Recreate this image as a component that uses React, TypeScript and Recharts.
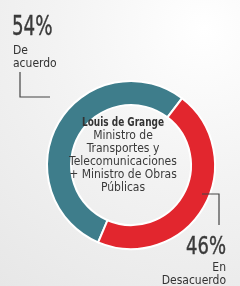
import { PieChart, Pie, Cell } from "recharts";

const slices = ["De acuerdo", "En Desacuerdo"];
const shares = [54, 46];
const sliceColors = ["#3e7d8b", "#e2262e"];
const titleLine = "Louis de Grange";
const roleLines = [
    "Ministro de",
    "Transportes y",
    "Telecomunicaciones",
    "+ Ministro de Obras",
    "Públicas",
];

const data = slices.map((name, i) => ({ name, value: shares[i] }));

const narrow = "'Liberation Sans Narrow', 'DejaVu Sans Condensed', sans-serif";

const App = () => {
    return (
        <div
            style={{
                position: "fixed",
                top: 0,
                left: 0,
                width: 240,
                height: 286,
                background: "radial-gradient(circle at 85% 10%, #ffffff 0%, #f3f3f3 45%, #e7e7e7 100%)",
                overflow: "hidden",
            }}
        >
            <PieChart width={240} height={286} style={{ position: "absolute", top: 0, left: 0 }}>
                <Pie
                    data={data}
                    dataKey="value"
                    nameKey="name"
                    cx={126}
                    cy={160}
                    innerRadius={60}
                    outerRadius={84}
                    startAngle={-113}
                    endAngle={-473}
                    stroke="#ffffff"
                    strokeWidth={2}
                    isAnimationActive={false}
                >
                    {data.map((d, i) => (
                        <Cell key={d.name} fill={sliceColors[i]} />
                    ))}
                </Pie>
            </PieChart>

            <svg width={240} height={286} style={{ position: "absolute", top: 0, left: 0 }}>
                {/* left callout */}
                <text transform="translate(12,35) scale(0.78,1)" fontFamily={narrow} fontSize={26} fill="#3a3a3a" stroke="#3a3a3a" strokeWidth={0.4}>
                    {shares[0]}%
                </text>
                <text x={13} y={54} fontFamily={narrow} fontSize={12} fill="#333">De</text>
                <text x={13} y={67} fontFamily={narrow} fontSize={12} fill="#333">acuerdo</text>
                <polyline points="20,72 20,97 50,97" fill="none" stroke="#444" strokeWidth={1.2} />

                {/* right callout */}
                <polyline points="202,194 219,194 219,225" fill="none" stroke="#444" strokeWidth={1.2} />
                <text transform="translate(226,254) scale(0.8,1)" textAnchor="end" fontFamily={narrow} fontSize={25} fill="#3a3a3a" stroke="#3a3a3a" strokeWidth={0.4}>
                    {shares[1]}%
                </text>
                <text x={226} y={271} textAnchor="end" fontFamily={narrow} fontSize={12} fill="#333">En</text>
                <text x={226} y={284} textAnchor="end" fontFamily={narrow} fontSize={12} fill="#333">Desacuerdo</text>

                {/* centre label */}
                <text x={123} y={126} textAnchor="middle" fontFamily={narrow} fontWeight="bold" fontSize={12} fill="#333" textLength={82} lengthAdjust="spacingAndGlyphs">
                    {titleLine}
                </text>
                {roleLines.map((t, i) => (
                    <text key={t} x={123} y={139 + i * 13} textAnchor="middle" fontFamily={narrow} fontSize={12} fill="#3a3a3a">
                        {t}
                    </text>
                ))}
            </svg>
        </div>
    );
};

export default App;
